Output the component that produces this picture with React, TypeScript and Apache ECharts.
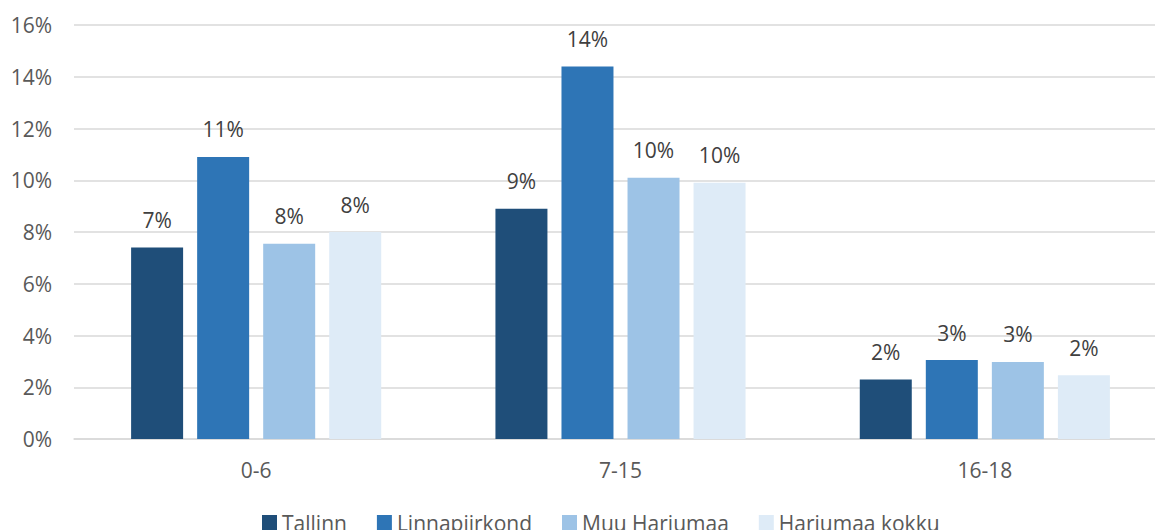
import React, { useEffect, useRef } from "react";
import * as echarts from "echarts";

const categories = ["0-6", "7-15", "16-18"];
const seriesNames = ["Tallinn", "Linnapiirkond", "Muu Harjumaa", "Harjumaa kokku"];
const tallinn = [7.4, 8.9, 2.3];
const linnapiirkond = [10.9, 14.4, 3.05];
const muuHarjumaa = [7.55, 10.1, 2.98];
const harjumaaKokku = [8.0, 9.9, 2.46];
const colors = ["#1f4e79", "#2e75b6", "#9dc3e6", "#deebf7"];

const FONT = "'Open Sans', 'Noto Sans', sans-serif";

export default function App() {
  const ref = useRef<HTMLDivElement>(null);
  useEffect(() => {
    if (!ref.current) return;
    const chart = echarts.init(ref.current, undefined, { renderer: "svg" });
    const values = [tallinn, linnapiirkond, muuHarjumaa, harjumaaKokku];
    chart.setOption({
      animation: false,
      backgroundColor: "#ffffff",
      grid: {
        left: 74,
        top: 25,
        width: 1093,
        height: 414,
        containLabel: false,
        outerBoundsMode: "none",
      },
      legend: {
        data: seriesNames,
        left: 257,
        top: 507,
        itemWidth: 15,
        itemHeight: 15,
        itemGap: 30,
        icon: "rect",
        textStyle: { fontFamily: FONT, fontSize: 21, color: "#595959" },
      },
      xAxis: {
        type: "category",
        data: categories,
        axisLine: { lineStyle: { color: "#d9d9d9", width: 1.5 } },
        axisTick: { show: false },
        axisLabel: { fontFamily: FONT, fontSize: 21, color: "#595959", margin: 20 },
      },
      yAxis: {
        type: "value",
        min: 0,
        max: 16,
        interval: 2,
        axisLine: { show: false },
        axisTick: { show: false },
        splitLine: { lineStyle: { color: "#d9d9d9", width: 1.5 } },
        axisLabel: {
          fontFamily: FONT,
          fontSize: 21,
          color: "#595959",
          margin: 22,
          formatter: "{value}%",
        },
      },
      series: seriesNames.map((name, i) => ({
        name,
        type: "bar",
        data: values[i],
        barWidth: 52,
        barGap: "27%",
        itemStyle: { color: colors[i] },
        label: {
          show: true,
          position: "top",
          distance: 17,
          fontFamily: FONT,
          fontSize: 21,
          color: "#404040",
          formatter: (p: any) => Math.round(p.value) + "%",
        },
      })),
    });
    return () => chart.dispose();
  }, []);
  return (
    <div
      ref={ref}
      style={{ position: "fixed", left: 0, top: 0, width: 1155, height: 530, background: "#fff" }}
    />
  );
}
